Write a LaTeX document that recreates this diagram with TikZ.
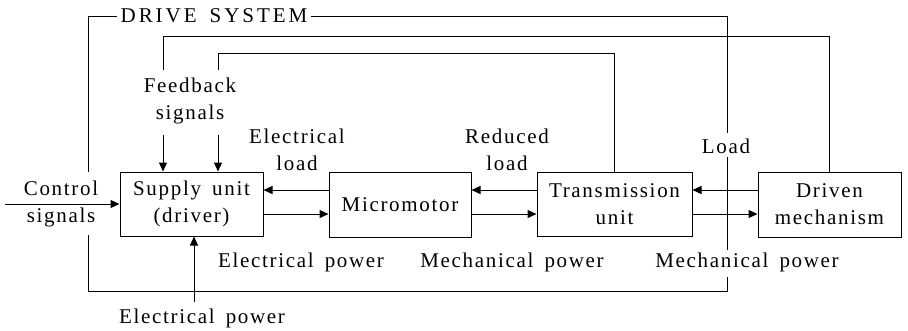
\documentclass[tikz,border=0pt]{standalone}
\usepackage{fontspec}
\setmainfont{Liberation Serif}[LetterSpace=8,WordSpace=1.6]
\usetikzlibrary{arrows.meta}
\begin{document}
\begin{tikzpicture}[x=1pt,y=-1pt,
  line width=1pt,
  font=\fontsize{21}{27}\selectfont,
  blk/.style={draw,inner sep=0pt,align=center},
  lbl/.style={inner sep=0pt,align=center},
  arr/.style={-{Triangle[length=9pt,width=8pt]}}]
\useasboundingbox (0,0) rectangle (908,330);
% blocks
\node[blk,minimum width=143pt,minimum height=64pt] (sup) at (191.5,204) {Supply unit\\(driver)};
\node[blk,minimum width=142pt,minimum height=65pt] (mic) at (400,204.5) {Micromotor};
\node[blk,minimum width=155pt,minimum height=64pt] (tra) at (614.5,204) {Transmission\\unit};
\node[blk,minimum width=143pt,minimum height=65pt] (drv) at (829.5,204.5) {Driven\\mechanism};
% labels
\node[lbl,inner xsep=3pt,font=\fontsize{21}{27}\addfontfeature{LetterSpace=14}] (ds) at (214,16) {DRIVE SYSTEM};
\node[lbl] (fb) at (190,101) {Feedback\\signals};
\node[lbl] (el) at (297,150) {Electrical\\load};
\node[lbl] (rl) at (507,150) {Reduced\\load};
\node[lbl] (ld) at (726,146) {Load};
\node[lbl] (cs) at (61,204) {Control\\signals};
\node[lbl] (ep1) at (301,262) {Electrical power};
\node[lbl] (mp1) at (512,262) {Mechanical power};
\node[lbl] (mp2) at (747,262) {Mechanical power};
\node[lbl] (ep0) at (202,318) {Electrical power};
% drive system boundary
\draw (88,172) -- (88,16) -- (ds.west);
\draw (ds.east) -- (727,16) -- (727,133);
\draw (727,157) -- (727,250);
\draw (727,277) -- (727,291) -- (88,291) -- (88,235);
% feedback loops
\coordinate (f1) at (163,70);
\coordinate (f2) at (218,70);
\draw (drv.north) -- (drv.north |- 0,36) -- (f1 |- 0,36) -- (f1);
\draw (tra.north) -- (tra.north |- 0,53) -- (f2 |- 0,53) -- (f2);
\coordinate (f1b) at (163,135);
\coordinate (f2b) at (218,135);
\draw[arr] (f1b) -- (f1b |- sup.north);
\draw[arr] (f2b) -- (f2b |- sup.north);
% forward/backward arrows
\draw[arr] (mic.west |- 0,190) -- (sup.east |- 0,190);
\draw[arr] (sup.east |- 0,214) -- (mic.west |- 0,214);
\draw[arr] (tra.west |- 0,190) -- (mic.east |- 0,190);
\draw[arr] (mic.east |- 0,214) -- (tra.west |- 0,214);
\draw[arr] (drv.west |- 0,190) -- (tra.east |- 0,190);
\draw[arr] (tra.east |- 0,214) -- (drv.west |- 0,214);
% inputs
\coordinate (cin) at (5,204);
\draw[arr] (cin) -- (sup.west |- cin);
\coordinate (ein) at (194,302);
\draw[arr] (ein) -- (ein |- sup.south);
\end{tikzpicture}
\end{document}
